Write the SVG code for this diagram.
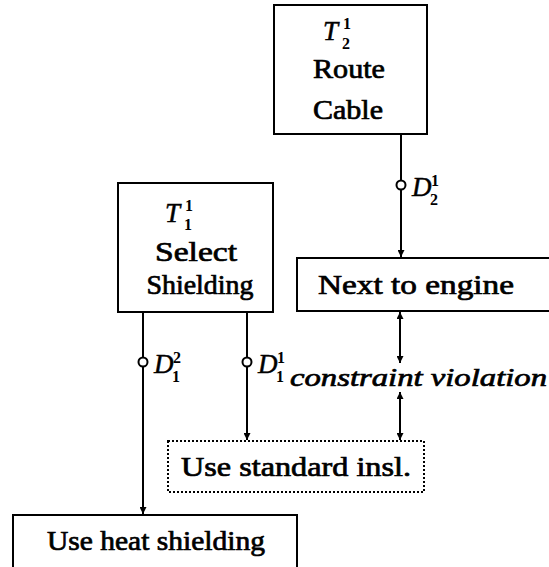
<svg xmlns="http://www.w3.org/2000/svg" width="549" height="567" viewBox="0 0 549 567">
<style>
.box{fill:#fff;stroke:#000;stroke-width:2}
.dot{fill:#fff;stroke:#000;stroke-width:2;stroke-dasharray:2,2}
.t{font-family:"Liberation Serif",serif;font-size:27px;fill:#000;stroke:#000;stroke-width:0.7}
.m{font-family:"Liberation Serif",serif;font-style:italic;font-size:27px;fill:#000;stroke:#000;stroke-width:0.5}
.v{font-family:"Liberation Serif",serif;font-style:italic;font-size:26px;fill:#000;stroke:#000;stroke-width:0.7}
.s{font-family:"Liberation Serif",serif;font-size:16px;font-weight:bold;fill:#000}
.ln{stroke:#000;stroke-width:2;fill:none}
.c{fill:#fff;stroke:#000;stroke-width:2}
</style>
<defs>
<marker id="ah" viewBox="0 0 10 10" refX="10" refY="5" markerWidth="9" markerHeight="7" markerUnits="userSpaceOnUse" orient="auto-start-reverse">
<path d="M0,0 L10,5 L0,10 z" fill="#000"/>
</marker>
</defs>
<g id="t21">
<rect class="box" x="274" y="5" width="153" height="129"/>
<text class="m" x="323" y="40">T</text>
<text class="s" x="343" y="29">1</text>
<text class="s" x="342" y="49">2</text>
<text class="t" x="349" y="78" text-anchor="middle" textLength="72" lengthAdjust="spacingAndGlyphs">Route</text>
<text class="t" x="348" y="119" text-anchor="middle" textLength="70" lengthAdjust="spacingAndGlyphs">Cable</text>
</g>
<g id="t11">
<rect class="box" x="118" y="183" width="155" height="129"/>
<text class="m" x="165" y="222">T</text>
<text class="s" x="185" y="211">1</text>
<text class="s" x="184" y="230">1</text>
<text class="t" x="196" y="261" text-anchor="middle" textLength="82" lengthAdjust="spacingAndGlyphs">Select</text>
<text class="t" x="200" y="294" text-anchor="middle" textLength="107" lengthAdjust="spacingAndGlyphs">Shielding</text>
</g>
<g id="engine">
<rect class="box" x="297" y="258" width="270" height="53"/>
<text class="t" x="416" y="294" text-anchor="middle" textLength="196" lengthAdjust="spacingAndGlyphs">Next to engine</text>
</g>
<g id="standard">
<rect class="dot" x="168" y="441" width="256" height="51"/>
<text class="t" x="296" y="476" text-anchor="middle" textLength="230" lengthAdjust="spacingAndGlyphs">Use standard insl.</text>
</g>
<g id="heat">
<rect class="box" x="13" y="515" width="284" height="70"/>
<text class="t" x="156" y="550" text-anchor="middle" textLength="218" lengthAdjust="spacingAndGlyphs">Use heat shielding</text>
</g>
<g id="violation">
<text class="v" x="290" y="386" textLength="257" lengthAdjust="spacingAndGlyphs">constraint violation</text>
</g>
<g id="connectors">
<line class="ln" x1="401" y1="134" x2="401" y2="257" marker-end="url(#ah)"/>
<circle class="c" cx="401" cy="185" r="4.5"/>
<text class="m" x="412" y="196">D</text>
<text class="s" x="431" y="186">1</text>
<text class="s" x="430" y="205">2</text>
<line class="ln" x1="143" y1="312" x2="143" y2="514" marker-end="url(#ah)"/>
<circle class="c" cx="143" cy="362" r="4.5"/>
<text class="m" x="154" y="373">D</text>
<text class="s" x="173" y="363">2</text>
<text class="s" x="172" y="382">1</text>
<line class="ln" x1="247" y1="312" x2="247" y2="440" marker-end="url(#ah)"/>
<circle class="c" cx="247" cy="362" r="4.5"/>
<text class="m" x="258" y="373">D</text>
<text class="s" x="277" y="363">1</text>
<text class="s" x="276" y="382">1</text>
<line class="ln" x1="400" y1="312" x2="400" y2="363" marker-start="url(#ah)" marker-end="url(#ah)"/>
<line class="ln" x1="400" y1="392" x2="400" y2="440" marker-start="url(#ah)" marker-end="url(#ah)"/>
</g>
</svg>
